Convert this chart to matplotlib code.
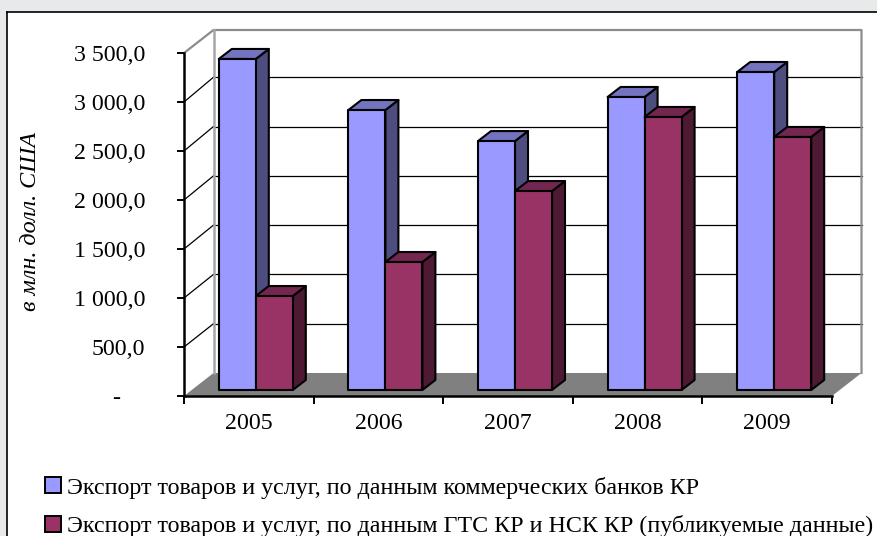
import matplotlib
matplotlib.use('Agg')
import matplotlib.pyplot as plt
from matplotlib.patches import Polygon, Patch, Rectangle
import numpy as np

years = ['2005', '2006', '2007', '2008', '2009']
banks = [3378, 2857, 2540, 2990, 3245]
gts = [959, 1306, 2030, 2786, 2582]
yticks = [0, 500, 1000, 1500, 2000, 2500, 3000, 3500]
ylabels = ['-    ', '500,0', '1 000,0', '1 500,0', '2 000,0', '2 500,0', '3 000,0', '3 500,0']
names = ['Экспорт товаров и услуг, по данным коммерческих банков КР',
         'Экспорт товаров и услуг, по данным ГТС КР и НСК КР (публикуемые данные)']

plt.rcParams['font.family'] = 'Liberation Serif'

W, H = 878, 536
fig = plt.figure(figsize=(W / 100, H / 100), dpi=100, facecolor='#E7E9EB')

# white chart area with black edge on top and left only
fig.patches.append(Rectangle((7 / W, 0), 1, 1 - 11.5 / H, transform=fig.transFigure,
                             facecolor='white', edgecolor='none', zorder=-2))
fig.add_artist(plt.Line2D([7.5 / W, 1], [1 - 11.5 / H] * 2, color='black', lw=1.2))
fig.add_artist(plt.Line2D([7.5 / W] * 2, [0, 1 - 11.5 / H], color='black', lw=1.2))

left, right, top, bottom = 184, 832, 53, 396
ax = fig.add_axes([left / W, 1 - bottom / H, (right - left) / W, (bottom - top) / H])
ax.set_xlim(0, 5)
ax.set_ylim(0, 3500)
ax.patch.set_alpha(0)
for s in ['top', 'right']:
    ax.spines[s].set_visible(False)
for s in ['left', 'bottom']:
    ax.spines[s].set_linewidth(1.8)

ux = 5 / (right - left)     # data units per pixel
uy = 3500 / (bottom - top)


def shift(x, y, dx, dy):
    return (x + dx * ux, y + dy * uy)


def poly(pts, **kw):
    ax.add_patch(Polygon(pts, closed=True, clip_on=False, **kw))


# walls and floor
depth_x, depth_y = 29.5, 23
poly([(0, 0), (5, 0), shift(5, 0, depth_x, depth_y), shift(0, 0, depth_x, depth_y)],
     facecolor='#808080', edgecolor='none', zorder=1)
for v in yticks[1:-1]:
    back = v + (depth_y + v / 3000 * 1.8) * uy     # back wall lines run a bit wider apart
    ax.plot([0, 0 + depth_x * ux], [v, back], color='black', lw=0.9, clip_on=False, zorder=1)
    ax.plot([depth_x * ux, 5 + depth_x * ux], [back, back], color='black', lw=0.9, clip_on=False, zorder=1)
wall = [(0, 3500), shift(0, 3500, depth_x, depth_y), shift(5, 3500, depth_x, depth_y), shift(5, 0, depth_x, depth_y)]
ax.plot(*zip(*wall), color='#8C8C8C', lw=1.6, clip_on=False, zorder=1.5)
ax.plot(*zip(shift(0, 0, depth_x, depth_y), shift(0, 3500, depth_x, depth_y)), color='#A6A6A6', lw=1.8, clip_on=False, zorder=1.5)


def bar3d(x0, x1, v, front, top_c, side):
    a, b = 7.0, -6.0    # front face sits a little behind the axis plane
    d_x, d_y = 13, 10
    p = lambda x, y, k=0: shift(x, y, a + k * d_x, -b + k * d_y)
    kw = dict(edgecolor='black', lw=1.5, joinstyle='round', zorder=3)
    poly([p(x1, 0), p(x1, 0, 1), p(x1, v, 1), p(x1, v)], facecolor=side, **kw)
    poly([p(x0, v), p(x1, v), p(x1, v, 1), p(x0, v, 1)], facecolor=top_c, **kw)
    poly([p(x0, 0), p(x1, 0), p(x1, v), p(x0, v)], facecolor=front, **kw)


w = 37 * ux
for i in range(len(years)):
    c = i + 0.5
    bar3d(c - w, c, banks[i], '#9999FF', '#7373BF', '#4D4D80')
    bar3d(c, c + w, gts[i], '#993366', '#732650', '#4D1933')

ax.set_yticks(yticks)
ax.set_yticklabels(ylabels, fontsize=17.2)
ax.set_xticks(np.arange(0, 6))
ax.set_xticklabels([])
ax.set_xticks(np.arange(5) + 0.5, labels=years, minor=True, fontsize=17.2)
ax.tick_params(axis='x', which='minor', length=0, pad=12.5)
ax.tick_params(axis='x', which='major', length=5.5, width=1.4)
ax.tick_params(axis='y', length=5, width=1.4, pad=23)

fig.text(31 / W, 1 - 221 / H, 'в млн. долл. США', rotation=90, style='italic',
         fontsize=17.4, ha='center', va='center')

handles = [Patch(facecolor='#9999FF', edgecolor='black', lw=1.4),
           Patch(facecolor='#993366', edgecolor='black', lw=1.4)]
fig.legend(handles, names, loc='lower left', bbox_to_anchor=(45 / W, -1 / H), frameon=False,
           fontsize=17.3, handlelength=0.65, handleheight=0.65, handletextpad=0.25, labelspacing=0.68,
           borderaxespad=0, borderpad=0)

fig.savefig('out.png', dpi=100, facecolor=fig.get_facecolor())
